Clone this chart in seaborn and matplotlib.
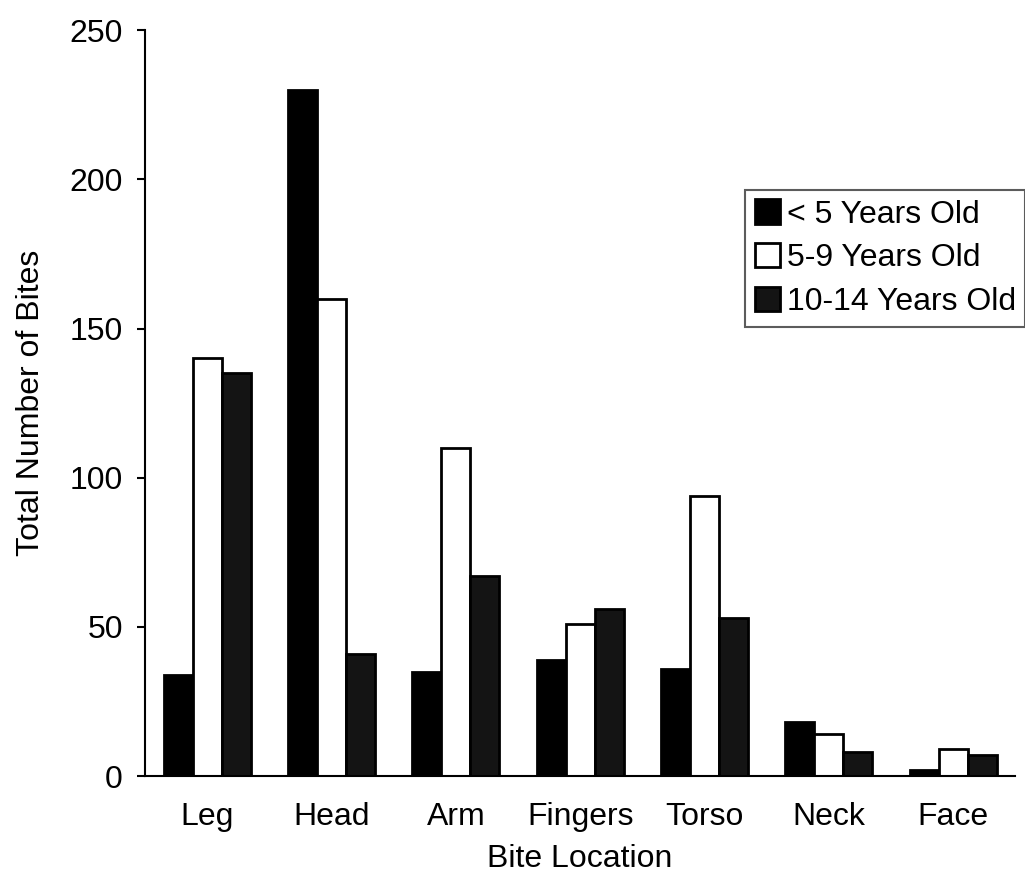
import pandas as pd
import matplotlib
matplotlib.use("Agg")
import matplotlib.pyplot as plt
import seaborn as sns

# Données
locations = ["Leg", "Head", "Arm", "Fingers", "Torso", "Neck", "Face"]
groups = ["< 5 Years Old", "5-9 Years Old", "10-14 Years Old"]
under_5 = [34, 230, 35, 39, 36, 18, 2]
age_5_9 = [140, 160, 110, 51, 94, 14, 9]
age_10_14 = [135, 41, 67, 56, 53, 8, 7]

rows = []
for name, vals in zip(groups, [under_5, age_5_9, age_10_14]):
    for loc, v in zip(locations, vals):
        rows.append({"Bite Location": loc, "Age": name, "Bites": v})
df = pd.DataFrame(rows)

sns.set_style("white")
plt.rcParams["font.family"] = ["Liberation Sans", "DejaVu Sans"]
for k in ["text.color", "axes.labelcolor", "xtick.color", "ytick.color"]:
    plt.rcParams[k] = "black"

fig = plt.figure(figsize=(10.25, 8.86), dpi=100)
ax = fig.add_axes([0.1415, 0.124, 0.849, 0.842])

sns.barplot(data=df, x="Bite Location", y="Bites", hue="Age",
            hue_order=groups, order=locations,
            palette=["black", "white", "#141414"],
            edgecolor="black", linewidth=2, width=0.7,
            saturation=1, ax=ax)

ax.set_ylim(0, 250)
ax.set_xlim(-0.5, 6.5)
ax.set_yticks([0, 50, 100, 150, 200, 250])
ax.tick_params(axis="y", left=True, length=6, width=1.5, labelsize=23, pad=10)
ax.tick_params(axis="x", bottom=False, labelsize=23, pad=15)
ax.set_xlabel("Bite Location", fontsize=23, labelpad=9)
ax.set_ylabel("Total Number of Bites", fontsize=23, labelpad=17)

sns.despine(ax=ax)
for s in ["left", "bottom"]:
    ax.spines[s].set_color("black")
    ax.spines[s].set_linewidth(1.5)

leg = ax.legend(loc="upper left", bbox_to_anchor=(0.727, 0.786),
                bbox_transform=fig.transFigure, fontsize=23,
                frameon=True, fancybox=False, edgecolor="#333333",
                handlelength=0.8, handleheight=0.8, handletextpad=0.2,
                labelspacing=0.42, borderpad=0.3, borderaxespad=0)
leg.get_frame().set_linewidth(1.5)

fig.savefig("out.png", dpi=100)
